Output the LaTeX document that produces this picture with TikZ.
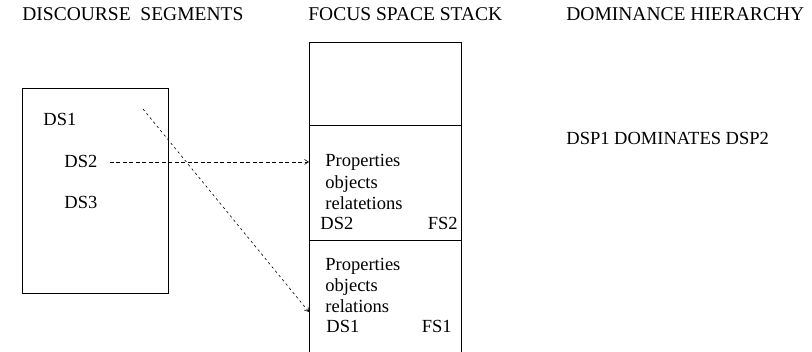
\documentclass[tikz,border=0pt]{standalone}
\usepackage{fontspec}
\setmainfont{Liberation Serif}
\usetikzlibrary{arrows.meta}

\tikzset{
  lbl/.style={anchor=base west, inner sep=0pt, font=\fontsize{18.5}{22}\selectfont},
  rlbl/.style={lbl, anchor=base east},
  head/.style={lbl, font=\fontsize{19.5}{23}\selectfont},
  link/.style={line width=0.6pt, dash pattern=on 4pt off 2.5pt, -{Straight Barb[length=4pt,width=5pt]}},
  thinlink/.style={link, dash pattern=on 2.5pt off 3pt}
}

\begin{document}
\begin{tikzpicture}[x=1pt, y=-1pt, line width=0.8pt]
  \useasboundingbox (0,0) rectangle (812,352);
  \clip (0,0) rectangle (812,352);
  \node[head] (hds) at (22,21) {DISCOURSE\ \ SEGMENTS};
  \node[head] (hfs) at (308,21) {FOCUS SPACE STACK};
  \node[head] (hdh) at (566,21) {DOMINANCE HIERARCHY};
  \draw (22,88) rectangle (168,293);
  \node[lbl] (ds1) at (43,126) {DS1};
  \node[lbl] (ds2) at (64,168) {DS2};
  \node[lbl] (ds3) at (64,209) {DS3};
  \draw (309,42) rectangle (461,125);
  \draw (309,125) rectangle (461,240);
  \draw (309,240) rectangle (461,370);
  \coordinate (fs2in) at (309,161);
  \coordinate (fs1in) at (309,312);
  \coordinate (ds1out) at (143,109);
  \node[lbl] (p2) at (325,167) {Properties};
  \node[lbl] (o2) at (325,189) {objects};
  \node[lbl] (r2) at (325,210) {relatetions};
  \node[lbl] (d2) at (320,230) {DS2};
  \node[rlbl] (f2) at (458,230) {FS2};
  \node[lbl] (p1) at (325,271) {Properties};
  \node[lbl] (o1) at (325,292) {objects};
  \node[lbl] (r1) at (325,313) {relations};
  \node[lbl] (d1) at (326,333) {DS1};
  \node[rlbl] (f1) at (452,333) {FS1};
  \node[lbl] (dom) at (566,145) {DSP1 DOMINATES DSP2};
  \draw[link] ([xshift=12pt]ds2.east) -- (ds2.east -| fs2in);
  \draw[thinlink] (ds1out) -- (fs1in);
\end{tikzpicture}
\end{document}
